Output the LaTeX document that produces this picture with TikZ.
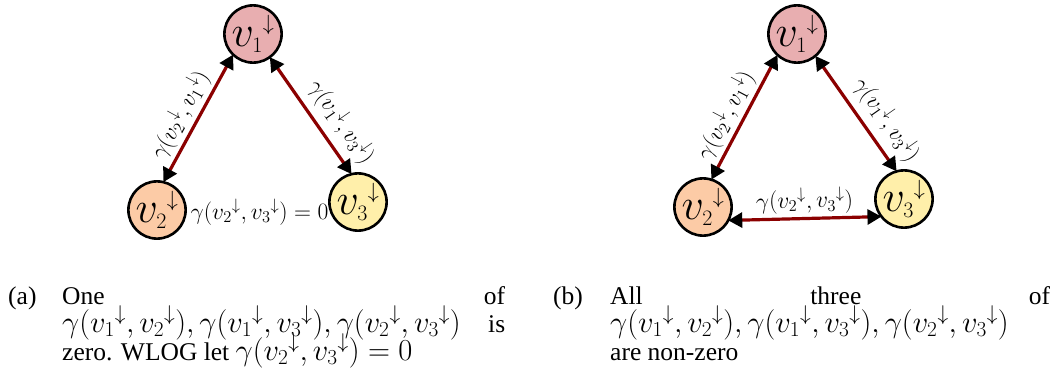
\RequirePackage{fix-cm}
\documentclass[tikz,border=0pt]{standalone}
\usepackage{fontspec}
\setmainfont{Liberation Serif}
\usetikzlibrary{arrows.meta}
\definecolor{cone}{RGB}{232,174,176}
\definecolor{ctwo}{RGB}{252,203,166}
\definecolor{cthree}{RGB}{255,239,170}
\definecolor{edgered}{RGB}{139,0,0}
\newcommand{\capmath}[1]{{\fontsize{30.5}{28}\selectfont$#1$}}
\newcommand{\vlab}[1]{${v_{\scriptscriptstyle #1}}^{\scriptscriptstyle\downarrow}$}
\begin{document}
\begin{tikzpicture}[x=1pt,y=-1pt,
  vert/.style={circle,draw=black,line width=2.6pt,minimum size=57pt,inner sep=0pt,outer sep=0pt,font=\fontsize{44}{48}\selectfont},
  link/.style={draw=edgered,line width=3.2pt,
    {Triangle[length=14pt,width=15pt,color=black,fill=black]}-{Triangle[length=14pt,width=15pt,color=black,fill=black]}},
  elab/.style={font=\fontsize{23.5}{26}\selectfont,inner sep=3pt},
  captxt/.style={font=\fontsize{25.5}{28}\selectfont,inner sep=0pt,anchor=base west}]
\useasboundingbox (0,0) rectangle (1059,383);
% (a)
\node[vert,fill=cone] (a1) at (253,34) {\vlab{1}};
\node[vert,fill=ctwo] (a2) at (157,210) {\vlab{2}};
\node[vert,fill=cthree] (a3) at (358,202) {\vlab{3}};
\draw[link] (a2.77) -- node[elab,sloped,above,pos=0.46] {$\gamma({v_2}^{\downarrow},{v_1}^{\downarrow})$} (a1.226);
\draw[link] (a1.306) -- node[elab,sloped,above=4pt,pos=0.66] {$\gamma({v_1}^{\downarrow},{v_3}^{\downarrow})$} (a3.103);
\node[elab,inner sep=0pt] (a23) at (259.5,212) {$\gamma({v_2}^{\downarrow},{v_3}^{\downarrow})=0$};
% (b)
\node[vert,fill=cone] (b1) at (797,34) {\vlab{1}};
\node[vert,fill=ctwo] (b2) at (703,207) {\vlab{2}};
\node[vert,fill=cthree] (b3) at (904,199) {\vlab{3}};
\draw[link] (b2.73) -- node[elab,sloped,above,pos=0.45] {$\gamma({v_2}^{\downarrow},{v_1}^{\downarrow})$} (b1.227);
\draw[link] (b1.310) -- node[elab,sloped,above=4pt,pos=0.66] {$\gamma({v_1}^{\downarrow},{v_3}^{\downarrow})$} (b3.105);
\draw[link] (b2.-28) -- node[elab,sloped,above] {$\gamma({v_2}^{\downarrow},{v_3}^{\downarrow})$} (b3.-142);
% captions
\node[captxt] (ca) at (8,304) {(a)};
\node[captxt] (ca1) at (62,304) {\hbox to 443pt{One\hfill of}};
\node[captxt] (ca2) at (62,332) {\hbox to 443pt{\capmath{\gamma({v_1}^{\downarrow},{v_2}^{\downarrow}),\gamma({v_1}^{\downarrow},{v_3}^{\downarrow}),\gamma({v_2}^{\downarrow},{v_3}^{\downarrow})}\hfill is}};
\node[captxt] (ca3) at (62,360) {zero. WLOG let \capmath{\gamma({v_2}^{\downarrow},{v_3}^{\downarrow})=0}};
\node[captxt] (cb) at (553,304) {(b)};
\node[captxt] (cb1) at (610,304) {\hbox to 440pt{All\hfill three\hfill of}};
\node[captxt] (cb2) at (610,332) {\capmath{\gamma({v_1}^{\downarrow},{v_2}^{\downarrow}),\gamma({v_1}^{\downarrow},{v_3}^{\downarrow}),\gamma({v_2}^{\downarrow},{v_3}^{\downarrow})}};
\node[captxt] (cb3) at (610,360) {are non-zero};
\end{tikzpicture}
\end{document}
